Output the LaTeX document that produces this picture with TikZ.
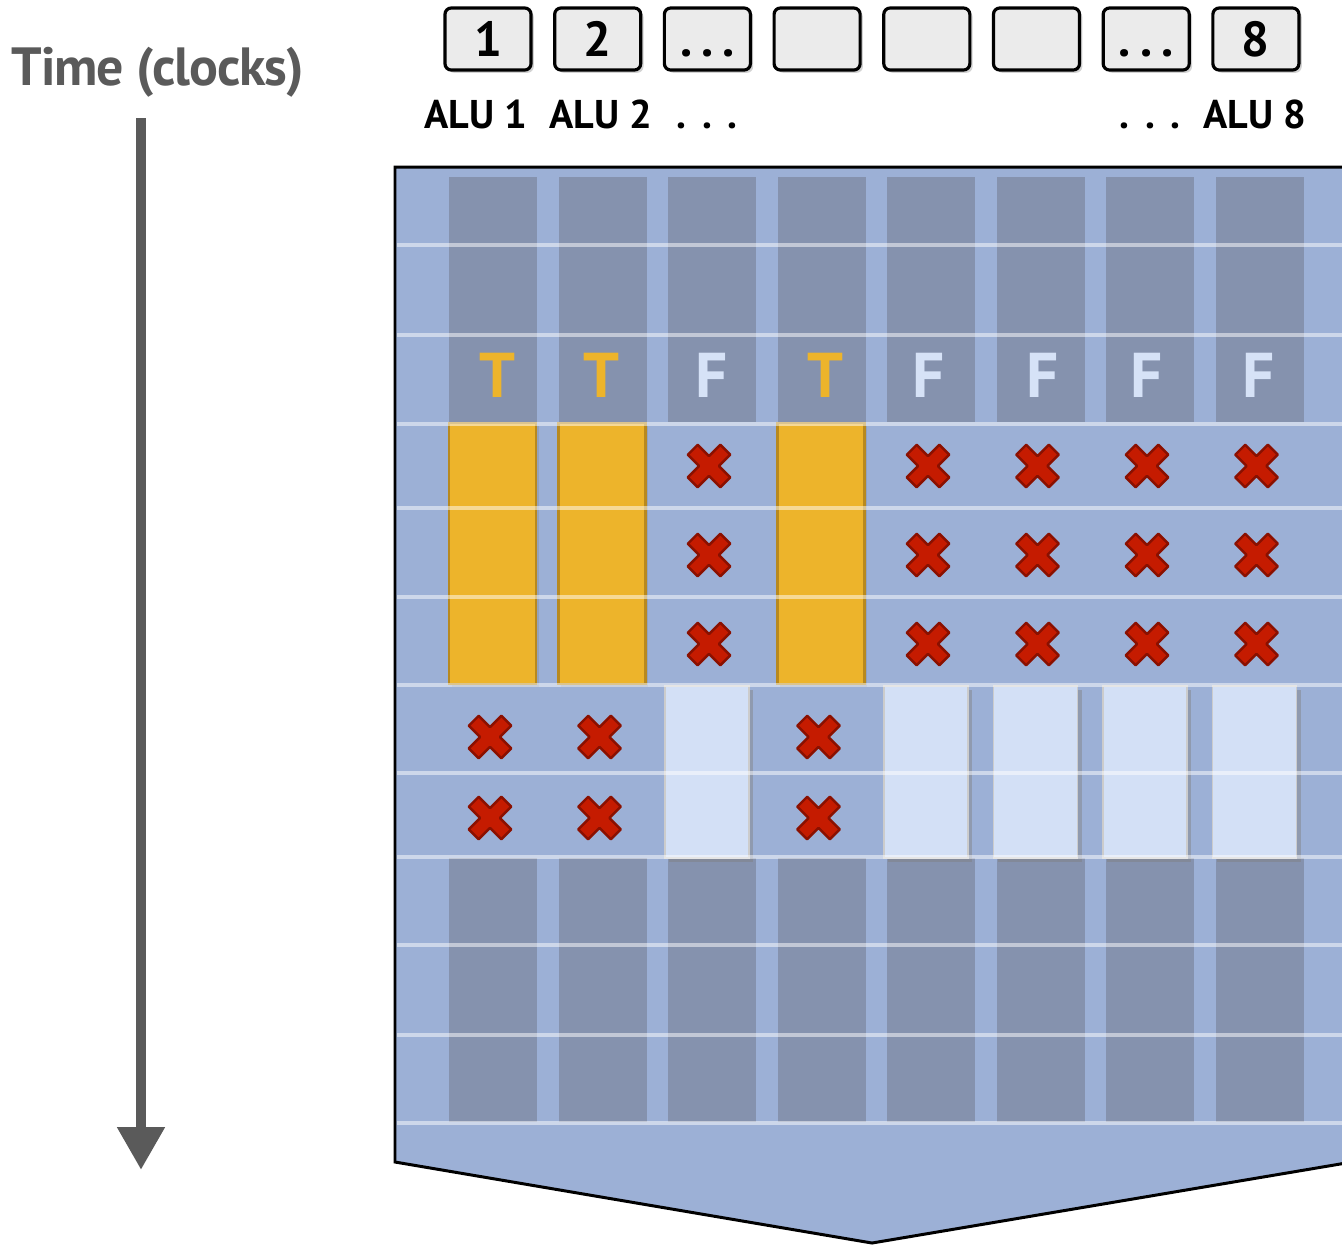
\documentclass[tikz,border=0pt]{standalone}
\usepackage{fontspec}
\setmainfont{PT Sans}
\newfontfamily\timefont[LetterSpace=-2]{PT Sans}
\usetikzlibrary{arrows.meta,shadows}

\definecolor{panelblue}{HTML}{9CB0D6}
\definecolor{cellgray}{HTML}{8592AE}
\definecolor{slotgold}{HTML}{EDB42B}
\definecolor{golddark}{HTML}{B8891E}
\definecolor{idleblue}{HTML}{D3E0F6}
\definecolor{falseblue}{HTML}{D6E2F7}
\definecolor{xred}{HTML}{C51B00}
\definecolor{xdark}{HTML}{8A1000}
\definecolor{timegray}{HTML}{5A5A5A}
\definecolor{keyfill}{HTML}{EBEBEB}

\newcommand{\dotsgap}[1]{.\hspace{#1}.\hspace{#1}.}

\tikzset{
  alubox/.style={draw=black, line width=0.9pt, rounded corners=1.8pt, fill=keyfill,
    minimum width=0.86cm, minimum height=0.62cm, inner sep=0pt,
    text height=10pt, text depth=0pt, font=\fontsize{14}{14}\selectfont\bfseries,
    drop shadow={shadow xshift=0.8pt, shadow yshift=-0.8pt, opacity=0.35}},
  alulabel/.style={anchor=base, inner sep=0pt, font=\fontsize{11.4}{12}\selectfont\bfseries},
  condlabel/.style={anchor=base, inner sep=0pt, font=\fontsize{18}{18}\selectfont\bfseries},
  goldbar/.style={fill=slotgold, draw=golddark, line width=0.6pt,
    drop shadow={shadow xshift=0.8pt, shadow yshift=-0.8pt, opacity=0.3}},
  idlebar/.style={fill=idleblue, draw=gray!40, line width=0.3pt,
    drop shadow={shadow xshift=1.2pt, shadow yshift=-1pt, opacity=0.45}},
  gridline/.style={white, opacity=0.5, line width=1.1pt},
  timearrow/.style={draw=timegray, line width=3.1pt, -{Triangle[width=12.8pt,length=12.2pt]}},
  redx/.pic={\filldraw[fill=xred, draw=xdark, line width=0.7pt, line join=round, rotate=45]
    (7,23) -- (7,7) -- (23,7) -- (23,-7) -- (7,-7) -- (7,-23) -- (-7,-23) -- (-7,-7)
    -- (-23,-7) -- (-23,7) -- (-7,7) -- (-7,23) -- cycle;}
}

\begin{document}
\begin{tikzpicture}[x=0.01cm, y=-0.01cm]
        \useasboundingbox (0,0) rectangle (1342,1244);

        % time axis
        \node[anchor=base west, inner sep=0pt, text=timegray, font=\fontsize{15.3}{16}\timefont\bfseries] (timelbl) at (11,85) {Time (clocks)};
        \coordinate (tstart) at (141,118);
        \coordinate (tend) at (141,1170);
        \draw[timearrow] (tstart) -- (tend);

        % ALUs
        \foreach \lbl [count=\i] in {1,2,{\dotsgap{2.6pt}},{},{},{},{\dotsgap{2.6pt}},8}
            \node[alubox] (alu\i) at ({488+109.7*(\i-1)},39) {\lbl};
        \node[alulabel] (lab1) at (476,128) {ALU 1};
        \node[alulabel] (lab2) at (601,128) {ALU 2};
        \node[alulabel] (lab3) at (707,128) {\dotsgap{4.4pt}};
        \node[alulabel] (lab7) at (1150,128) {\dotsgap{4.4pt}};
        \node[alulabel] (lab8) at (1255,128) {ALU 8};

        % panel
        \filldraw[fill=panelblue, draw=black, line width=0.85pt] (395,167) -- (1352,167) -- (1352,1162) -- (872,1243) -- (395,1162) -- cycle;

        \foreach \c in {0,...,7} {
            \fill[cellgray] ({449+109.5*\c},177) rectangle +(88,245);
            \fill[cellgray] ({449+109.5*\c},858) rectangle +(88,264);
        }

        % taken branch
        \foreach \c in {0,1,3}
            \draw[goldbar] ({449+109.5*\c},423) rectangle +(87,261);
        % not taken branch
        \foreach \c in {2,4,5,6,7}
            \draw[idlebar] ({446+109.5*\c},686) rectangle +(84,172);

        \foreach \y in {245,335,424,508,597,685,773,857,945,1035,1123}
            \draw[gridline] (397,\y) -- (1342,\y);

        % conditions
        \foreach \col/\t/\x [count=\i] in {slotgold/T/497,slotgold/T/601,falseblue/F/712,slotgold/T/825,
                                           falseblue/F/929,falseblue/F/1043,falseblue/F/1147,falseblue/F/1259}
            \node[condlabel, text=\col] (tf\i) at (\x,397) {\t};

        % masked lanes
        \foreach \c in {2,4,5,6,7}
            \foreach \y in {466,555,644}
                \pic at ({490+109.5*\c},\y) {redx};
        \foreach \c in {0,1,3}
            \foreach \y in {737,818}
                \pic at ({490+109.5*\c},\y) {redx};
    \end{tikzpicture}
\end{document}
